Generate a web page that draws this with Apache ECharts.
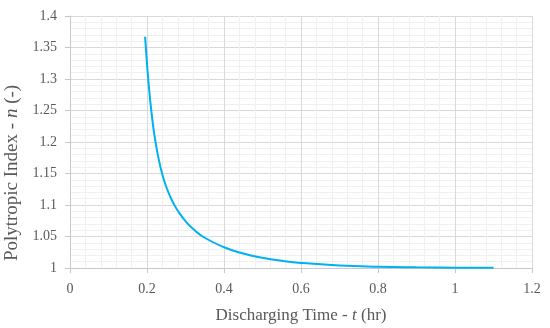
<!DOCTYPE html>
<html><head><meta charset="utf-8">
<script src="https://cdn.jsdelivr.net/npm/echarts@6/dist/echarts.min.js"></script>
<style>html,body{margin:0;padding:0;background:#fff}#c{width:550px;height:328px}</style>
</head><body><div id="c"></div>
<script>
const times = [0.195,0.2,0.205,0.21,0.215,0.22,0.23,0.24,0.25,0.26,0.27,0.28,0.3,0.32,0.35,0.4,0.45,0.5,0.55,0.6,0.7,0.8,0.9,1.0,1.1];
const nValues = [1.367,1.324,1.287,1.256,1.230,1.208,1.174,1.148,1.129,1.1136,1.1013,1.0909,1.0744,1.0619,1.048,1.033,1.023,1.0162,1.0114,1.0080,1.0040,1.0020,1.0010,1.0005,1.0002];
const xTicks = [0,0.2,0.4,0.6,0.8,1,1.2];
const yTicks = [1,1.05,1.1,1.15,1.2,1.25,1.3,1.35,1.4];

const font = "'Liberation Serif', 'DejaVu Serif', serif";
const chart = echarts.init(document.getElementById('c'));
chart.setOption({
  animation:false,
  grid:{left:70,right:18,top:16,bottom:60,containLabel:false,outerBoundsMode:'none'},
  xAxis:{type:'value',min:0,max:1.2,interval:0.2,
    name:'{a|Discharging Time - }{i|t}{a| (hr)}',nameLocation:'middle',nameGap:39,
    nameTextStyle:{rich:{a:{fontFamily:font,fontSize:17,color:'#595959'},i:{fontFamily:font,fontSize:17,fontStyle:'italic',color:'#595959'}}},
    axisLine:{show:true,lineStyle:{color:'#c8c8c8',width:1}},
    axisTick:{show:true,length:5,lineStyle:{color:'#c8c8c8'}},
    axisLabel:{fontFamily:font,fontSize:14,color:'#595959',margin:14,formatter:v=>String(+v.toFixed(2))},
    splitLine:{show:true,lineStyle:{color:'#d9d9d9',width:1}},
    minorTick:{show:false,splitNumber:5},
    minorSplitLine:{show:true,lineStyle:{color:'#f0f0f0',width:1}}
  },
  yAxis:{type:'value',min:1,max:1.4,interval:0.05,
    name:'{a|Polytropic Index - }{i|n}{a| (-)}',nameLocation:'middle',nameGap:45,
    nameTextStyle:{padding:[0,62,0,0],rich:{a:{fontFamily:font,fontSize:19,color:'#595959'},i:{fontFamily:font,fontSize:19,fontStyle:'italic',color:'#595959'}}},
    axisLine:{show:true,lineStyle:{color:'#c8c8c8',width:1}},
    axisTick:{show:true,length:5,lineStyle:{color:'#c8c8c8'}},
    axisLabel:{fontFamily:font,fontSize:14,color:'#595959',margin:13,formatter:v=>String(+v.toFixed(2))},
    splitLine:{show:true,lineStyle:{color:'#d9d9d9',width:1}},
    minorTick:{show:false,splitNumber:5},
    minorSplitLine:{show:true,lineStyle:{color:'#f0f0f0',width:1}}
  },
  series:[{type:'line',data:times.map((t,i)=>[t,nValues[i]]),showSymbol:false,smooth:true,
    lineStyle:{color:'#00b0f0',width:2},itemStyle:{color:'#00b0f0'}}]
});
</script></body></html>
